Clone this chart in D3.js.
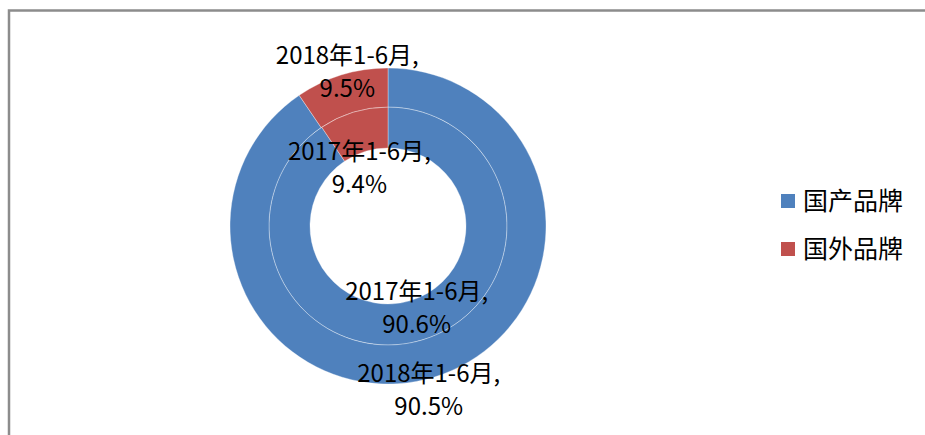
<!DOCTYPE html>
<html lang="zh">
<head>
<meta charset="utf-8">
<title>国产品牌与国外品牌占比</title>
<style>
  body { margin: 0; background: #fff; }
  svg text { font-family: "Noto Sans CJK SC", "Noto Sans", sans-serif; fill: #000; }
</style>
</head>
<body>
<script src="https://d3js.org/d3.v7.min.js"></script>
<script>
// data
const brands = ["国产品牌", "国外品牌"];
const periods = ["2017年1-6月", "2018年1-6月"];   // inner ring, outer ring
const share2017 = [90.6, 9.4];
const share2018 = [90.5, 9.5];
const colors = ["#4F81BD", "#C0504D"];

const width = 925, height = 435;
const cx = 388, cy = 226;
const rHole = 78, rMid = 119, rOuter = 158;

const svg = d3.select("body").append("svg")
    .attr("width", width)
    .attr("height", height);

// chart border (runs off the right and bottom edge)
svg.append("rect")
    .attr("x", 9).attr("y", 10.5)
    .attr("width", width + 20).attr("height", height + 20)
    .attr("fill", "none")
    .attr("stroke", "#8c8c8c")
    .attr("stroke-width", 2.5);

const color = d3.scaleOrdinal().domain(brands).range(colors);

const pie = d3.pie().sort(null).value(d => d.v);

const rings = [
    { period: periods[0], values: share2017, r0: rHole, r1: rMid },
    { period: periods[1], values: share2018, r0: rMid, r1: rOuter }
];

// label nudges relative to the slice centroid (Excel moves them around)
const nudge = {
    "2017年1-6月|国产品牌": -20,
    "2017年1-6月|国外品牌": 28,
    "2018年1-6月|国产品牌": 24,
    "2018年1-6月|国外品牌": -30
};

const g = svg.append("g").attr("transform", `translate(${cx},${cy})`);
const sliceLayer = g.append("g");
const labelLayer = g.append("g");

rings.forEach(ring => {
    const arcs = pie(ring.values.map((v, i) => ({ name: brands[i], v: v })));
    const arc = d3.arc().innerRadius(ring.r0).outerRadius(ring.r1);

    sliceLayer.append("g").selectAll("path")
        .data(arcs)
        .enter()
        .append("path")
        .attr("d", arc)
        .attr("fill", d => color(d.data.name))
        .attr("stroke", "rgba(255,255,255,0.45)")
        .attr("stroke-width", 0.75);

    const labels = labelLayer.append("g").selectAll("text")
        .data(arcs)
        .enter()
        .append("text")
        .attr("text-anchor", "middle")
        .attr("font-size", 24)
        .attr("transform", d => {
            const c = arc.centroid(d);
            const dy = nudge[ring.period + "|" + d.data.name];
            return `translate(${c[0]},${c[1] + dy})`;
        });

    labels.append("tspan")
        .attr("x", 0)
        .attr("y", 0)
        .text(ring.period + ",");
    labels.append("tspan")
        .attr("x", 0)
        .attr("y", 33)
        .text(d => d.data.v.toFixed(1) + "%");
});

// legend
const legend = svg.append("g").attr("transform", "translate(781,194)");
const item = legend.selectAll("g")
    .data(brands)
    .enter()
    .append("g")
    .attr("transform", (d, i) => `translate(0,${i * 48})`);

item.append("rect")
    .attr("width", 14).attr("height", 14)
    .attr("fill", d => color(d));

item.append("text")
    .attr("x", 22)
    .attr("y", 7)
    .attr("dy", "0.36em")
    .attr("font-size", 25)
    .text(d => d);
</script>
</body>
</html>
